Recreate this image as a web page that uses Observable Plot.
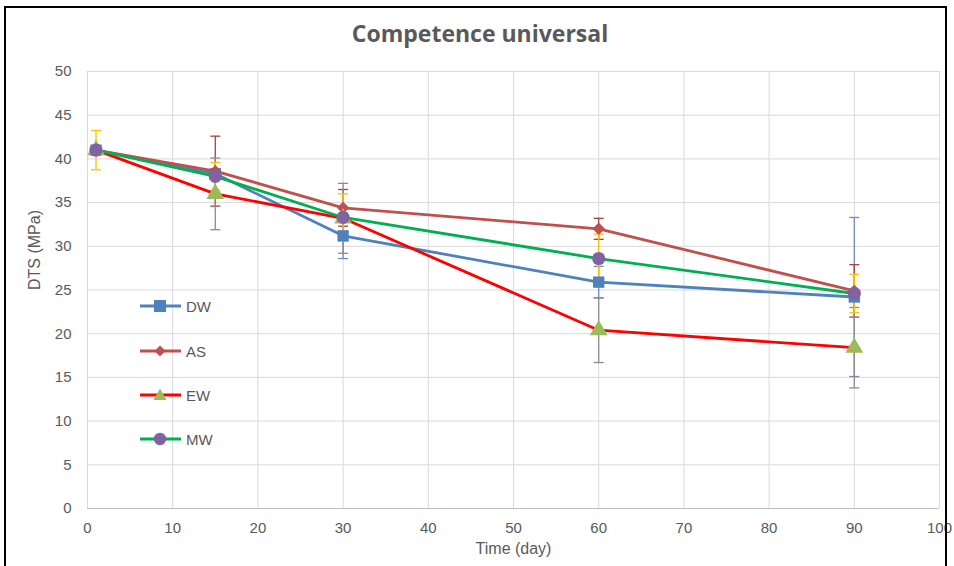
<!DOCTYPE html>
<html>
<head>
<meta charset="utf-8">
<script src="https://cdn.jsdelivr.net/npm/d3@7"></script>
<script src="https://cdn.jsdelivr.net/npm/@observablehq/plot@0.6"></script>
<style>
  html, body { margin: 0; padding: 0; background: #fff; }
  #wrap { position: relative; width: 954px; height: 566px; overflow: hidden; font-family: "Liberation Sans", Arial, sans-serif; }
  #frame { position: absolute; left: 4px; top: 6px; width: 943px; height: 620px; border: 2px solid #000; box-sizing: border-box; pointer-events: none; }
  #title { position: absolute; left: 0; width: 960px; top: 17px; text-align: center; font-family: "Open Sans", sans-serif; font-weight: 700; font-size: 23px; color: #595959; }
  #chart { position: absolute; left: 0; top: 0; }
  #legend { position: absolute; left: 140px; top: 296px; }
  .row { position: absolute; left: 0; height: 20px; display: flex; align-items: center; font-size: 15px; color: #595959; white-space: nowrap; }
  .row svg { margin-right: 4px; }
</style>
</head>
<body>
<div id="wrap">
  <div id="chart"></div>
  <div id="title">Competence universal</div>
  <div id="legend"></div>
  <div id="frame"></div>
</div>
<script>
// ---- data ----
const days = [1, 15, 30, 60, 90];
const seriesNames = ["DW", "AS", "EW", "MW"];
const dwValues = [41, 38.3, 31.2, 25.9, 24.2];
const asValues = [41, 38.6, 34.4, 32.0, 24.9];
const ewValues = [41, 36.0, 33.2, 20.4, 18.4];
const mwValues = [41, 38.0, 33.3, 28.6, 24.6];
const dwErrors = [0, 0.5, 2.6, 1.8, 9.1];
const asErrors = [0, 4.0, 2.1, 1.2, 3.0];
const ewErrors = [0, 4.1, 4.0, 3.7, 4.6];
const mwErrors = [2.25, 1.6, 2.7, 2.8, 2.2];
const xTicks = [0, 10, 20, 30, 40, 50, 60, 70, 80, 90, 100];
const yTicks = [0, 5, 10, 15, 20, 25, 30, 35, 40, 45, 50];

// ---- styles ----
const lineColors = {DW: "#4F81BD", AS: "#C0504D", EW: "#FF0000", MW: "#00B050"};
const markerColors = {DW: "#4F81BD", AS: "#C0504D", EW: "#9BBB59", MW: "#8064A2"};
const errColors = {DW: "#6F8DBF", AS: "#A5453F", EW: "#8C8C8C", MW: "#FFC000"};
const symbols = {DW: "square", AS: "diamond2", EW: "triangle", MW: "circle"};
const radii = {DW: 6.4, AS: 5.6, EW: 6.6, MW: 6.6};

const valuesBy = {DW: dwValues, AS: asValues, EW: ewValues, MW: mwValues};
const errorsBy = {DW: dwErrors, AS: asErrors, EW: ewErrors, MW: mwErrors};
const rows = seriesNames.flatMap(s => days.map((d, i) => ({
  series: s, day: d, value: valuesBy[s][i], err: errorsBy[s][i]
})));
const errRows = rows.filter(r => r.err > 0);

const capSymbol = {
  draw(context, size) {
    const w = 5;
    context.moveTo(-w, 0);
    context.lineTo(w, 0);
  }
};

const marks = [
  Plot.gridX(xTicks, {stroke: "#D9D9D9", strokeOpacity: 1, strokeWidth: 1}),
  Plot.gridY(yTicks.filter(v => v > 0), {stroke: "#D9D9D9", strokeOpacity: 1, strokeWidth: 1}),
  Plot.ruleY([0], {stroke: "#BFBFBF", strokeWidth: 1}),
  Plot.axisX(xTicks, {tickSize: 0, tickPadding: 14, fontSize: 15, fill: "#595959", label: null}),
  Plot.axisY(yTicks, {tickSize: 0, tickPadding: 16, fontSize: 15, fill: "#595959", label: null}),
  Plot.text(["Time (day)"], {frameAnchor: "bottom", dy: 45, fontSize: 16, fill: "#595959"}),
  Plot.text(["DTS (MPa)"], {frameAnchor: "left", dx: -53, rotate: -90, fontSize: 16, fill: "#595959"}),
];
for (const s of seriesNames) {
  const er = errRows.filter(r => r.series === s);
  marks.push(
    Plot.ruleX(er, {x: "day", y1: r => r.value - r.err, y2: r => r.value + r.err, stroke: errColors[s], strokeWidth: 1.3}),
    Plot.dot(er, {x: "day", y: r => r.value + r.err, symbol: capSymbol, stroke: errColors[s], strokeWidth: 1.3, r: 5}),
    Plot.dot(er, {x: "day", y: r => r.value - r.err, symbol: capSymbol, stroke: errColors[s], strokeWidth: 1.3, r: 5})
  );
}
for (const s of seriesNames) {
  marks.push(Plot.line(rows.filter(r => r.series === s), {x: "day", y: "value", stroke: lineColors[s], strokeWidth: 2.8}));
}
for (const s of seriesNames) {
  marks.push(Plot.dot(rows.filter(r => r.series === s), {x: "day", y: "value", symbol: symbols[s], fill: markerColors[s], r: radii[s], stroke: "none"}));
}

const chart = Plot.plot({
  width: 954,
  height: 566,
  marginLeft: 87,
  marginRight: 15,
  marginTop: 71,
  marginBottom: 58,
  style: {background: "transparent", fontFamily: "'Liberation Sans', Arial, sans-serif"},
  x: {domain: [0, 100]},
  y: {domain: [0, 50]},
  marks
});
document.getElementById("chart").appendChild(chart);

// ---- legend (HTML overlay) ----
const legend = document.getElementById("legend");
const symPaths = {
  DW: '<rect x="14" y="4" width="12" height="12" fill="#4F81BD"/>',
  AS: '<path d="M20 4.5 L25.5 10 L20 15.5 L14.5 10 Z" fill="#C0504D"/>',
  EW: '<path d="M20 3.5 L26.5 15 L13.5 15 Z" fill="#9BBB59"/>',
  MW: '<circle cx="20" cy="10" r="6.2" fill="#8064A2"/>'
};
const rowTops = {DW: 0, AS: 45, EW: 89, MW: 133};
seriesNames.forEach(s => {
  const div = document.createElement("div");
  div.className = "row";
  div.style.top = rowTops[s] + "px";
  div.innerHTML = `<svg width="42" height="20"><line x1="0" x2="41" y1="10" y2="10" stroke="${lineColors[s]}" stroke-width="2.8"/>${symPaths[s]}</svg><span>${s}</span>`;
  legend.appendChild(div);
});
</script>
</body>
</html>
